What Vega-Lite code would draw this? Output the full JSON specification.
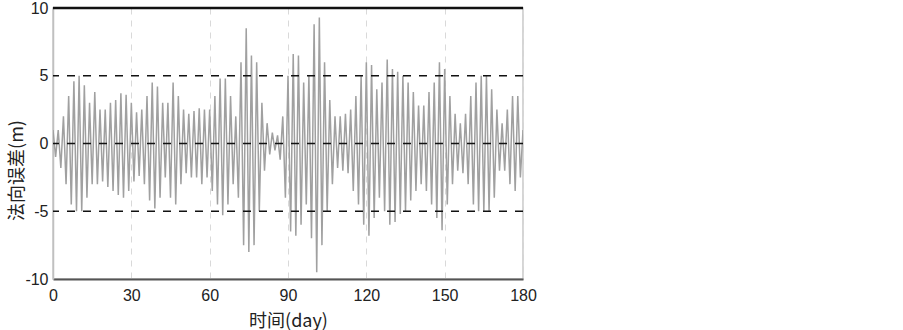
{
  "$schema": "https://vega.github.io/schema/vega-lite/v6.json",
  "width": 470,
  "height": 271,
  "autosize": "none",
  "padding": {"left": 53, "top": 8, "right": 380, "bottom": 51},
  "background": "white",
  "config": {
    "view": {"stroke": "#c8c8c8", "strokeWidth": 1.5},
    "font": "Liberation Sans"
  },
  "datasets": {
    "err": [
      {"t":0,"v":1.0},{"t":1,"v":-1.0},{"t":2,"v":1.0},{"t":3,"v":-1.8},{"t":4,"v":2.0},{"t":5,"v":-3.0},{"t":6,"v":3.5},{"t":7,"v":-4.5},{"t":8,"v":4.6},{"t":9,"v":-5.0},
      {"t":10,"v":5.0},{"t":11,"v":-5.0},{"t":12,"v":4.3},{"t":13,"v":-4.0},{"t":14,"v":3.0},{"t":15,"v":-3.0},{"t":16,"v":3.8},{"t":17,"v":-3.0},{"t":18,"v":2.5},{"t":19,"v":-2.8},
      {"t":20,"v":2.5},{"t":21,"v":-3.2},{"t":22,"v":3.0},{"t":23,"v":-3.5},{"t":24,"v":3.2},{"t":25,"v":-3.8},{"t":26,"v":3.7},{"t":27,"v":-4.0},{"t":28,"v":3.6},{"t":29,"v":-3.5},
      {"t":30,"v":3.0},{"t":31,"v":-2.8},{"t":32,"v":2.3},{"t":33,"v":-2.4},{"t":34,"v":2.5},{"t":35,"v":-3.0},{"t":36,"v":3.5},{"t":37,"v":-4.2},{"t":38,"v":4.5},{"t":39,"v":-4.8},
      {"t":40,"v":4.2},{"t":41,"v":-4.0},{"t":42,"v":3.0},{"t":43,"v":-2.5},{"t":44,"v":3.0},{"t":45,"v":-4.0},{"t":46,"v":4.5},{"t":47,"v":-4.5},{"t":48,"v":3.5},{"t":49,"v":-3.0},
      {"t":50,"v":2.5},{"t":51,"v":-2.2},{"t":52,"v":2.2},{"t":53,"v":-2.5},{"t":54,"v":2.4},{"t":55,"v":-2.5},{"t":56,"v":2.6},{"t":57,"v":-3.0},{"t":58,"v":2.5},{"t":59,"v":-2.5},
      {"t":60,"v":2.5},{"t":61,"v":-3.5},{"t":62,"v":3.5},{"t":63,"v":-4.5},{"t":64,"v":4.8},{"t":65,"v":-5.3},{"t":66,"v":4.8},{"t":67,"v":-4.5},{"t":68,"v":3.5},{"t":69,"v":-3.0},
      {"t":70,"v":2.0},{"t":71,"v":-4.0},{"t":72,"v":6.0},{"t":73,"v":-7.5},{"t":74,"v":8.5},{"t":75,"v":-8.0},{"t":76,"v":6.5},{"t":77,"v":-7.5},{"t":78,"v":6.0},{"t":79,"v":-5.0},
      {"t":80,"v":3.0},{"t":81,"v":-2.0},{"t":82,"v":1.5},{"t":83,"v":-0.8},{"t":84,"v":0.8},{"t":85,"v":-0.5},{"t":86,"v":0.6},{"t":87,"v":-1.2},{"t":88,"v":2.0},{"t":89,"v":-4.0},
      {"t":90,"v":5.0},{"t":91,"v":-6.5},{"t":92,"v":6.6},{"t":93,"v":-6.8},{"t":94,"v":6.5},{"t":95,"v":-6.0},{"t":96,"v":4.5},{"t":97,"v":-4.5},{"t":98,"v":5.0},{"t":99,"v":-7.0},
      {"t":100,"v":8.8},{"t":101,"v":-9.5},{"t":102,"v":9.3},{"t":103,"v":-7.5},{"t":104,"v":6.0},{"t":105,"v":-5.0},{"t":106,"v":3.2},{"t":107,"v":-3.0},{"t":108,"v":2.0},{"t":109,"v":-1.8},
      {"t":110,"v":2.0},{"t":111,"v":-2.0},{"t":112,"v":2.2},{"t":113,"v":-2.2},{"t":114,"v":2.5},{"t":115,"v":-3.5},{"t":116,"v":3.5},{"t":117,"v":-4.5},{"t":118,"v":5.0},{"t":119,"v":-6.0},
      {"t":120,"v":6.0},{"t":121,"v":-6.8},{"t":122,"v":5.8},{"t":123,"v":-5.5},{"t":124,"v":4.0},{"t":125,"v":-4.0},{"t":126,"v":4.5},{"t":127,"v":-5.0},{"t":128,"v":6.2},{"t":129,"v":-6.0},
      {"t":130,"v":5.5},{"t":131,"v":-5.8},{"t":132,"v":5.3},{"t":133,"v":-5.2},{"t":134,"v":5.0},{"t":135,"v":-5.0},{"t":136,"v":4.5},{"t":137,"v":-4.2},{"t":138,"v":3.8},{"t":139,"v":-3.5},
      {"t":140,"v":2.8},{"t":141,"v":-3.0},{"t":142,"v":2.8},{"t":143,"v":-3.5},{"t":144,"v":3.8},{"t":145,"v":-4.5},{"t":146,"v":4.5},{"t":147,"v":-5.5},{"t":148,"v":6.0},{"t":149,"v":-6.4},
      {"t":150,"v":5.5},{"t":151,"v":-4.5},{"t":152,"v":3.5},{"t":153,"v":-3.0},{"t":154,"v":2.2},{"t":155,"v":-2.0},{"t":156,"v":1.5},{"t":157,"v":-2.2},{"t":158,"v":2.2},{"t":159,"v":-3.0},
      {"t":160,"v":3.5},{"t":161,"v":-4.5},{"t":162,"v":4.5},{"t":163,"v":-5.0},{"t":164,"v":5.0},{"t":165,"v":-5.0},{"t":166,"v":5.0},{"t":167,"v":-5.0},{"t":168,"v":4.0},{"t":169,"v":-4.0},
      {"t":170,"v":2.5},{"t":171,"v":-2.0},{"t":172,"v":1.5},{"t":173,"v":-2.0},{"t":174,"v":2.5},{"t":175,"v":-3.0},{"t":176,"v":3.5},{"t":177,"v":-3.5},{"t":178,"v":3.5},{"t":179,"v":-2.5},
      {"t":180,"v":1.0}
    ],
    "refs": [{"level": -5}, {"level": 0}, {"level": 5}],
    "top": [{"level": 10}]
  },
  "layer": [
    {
      "data": {"name": "err"},
      "mark": {"type": "line", "stroke": "#a0a0a0", "strokeWidth": 1.5, "clip": true},
      "encoding": {
        "x": {
          "field": "t", "type": "quantitative",
          "scale": {"domain": [0, 180], "nice": false, "zero": false},
          "axis": {
            "values": [0, 30, 60, 90, 120, 150, 180],
            "labelFlush": false,
            "title": "时间(day)",
            "titleFont": "Noto Sans CJK SC",
            "titleFontSize": 18,
            "titleFontWeight": "normal",
            "titleColor": "#222",
            "titlePadding": 9,
            "labelFont": "Liberation Sans",
            "labelFontSize": 16,
            "labelColor": "#222",
            "labelPadding": 8,
            "ticks": false,
            "domainColor": "#555",
            "domainWidth": 2,
            "grid": true,
            "gridColor": "#d9d9d9",
            "gridDash": [6, 6],
            "gridWidth": 1
          }
        },
        "y": {
          "field": "v", "type": "quantitative",
          "scale": {"domain": [-10, 10], "nice": false},
          "axis": {
            "values": [-10, -5, 0, 5, 10],
            "labelExpr": "replace(datum.label, '−', '-')",
            "title": "法向误差(m)",
            "titleFont": "Noto Sans CJK SC",
            "titleFontSize": 18,
            "titleFontWeight": "normal",
            "titleColor": "#222",
            "titleAngle": -90,
            "titleX": -36,
            "titleY": 162,
            "titleAlign": "center",
            "titleBaseline": "middle",
            "labelFont": "Liberation Sans",
            "labelFontSize": 16,
            "labelColor": "#222",
            "labelPadding": 5,
            "ticks": false,
            "domainColor": "#c0c0c0",
            "domainWidth": 1.5,
            "grid": false
          }
        }
      }
    },
    {
      "data": {"name": "refs"},
      "mark": {"type": "rule", "stroke": "#111", "strokeWidth": 1.6, "strokeDash": [8, 8]},
      "encoding": {"y": {"field": "level", "type": "quantitative"}}
    },
    {
      "data": {"name": "top"},
      "mark": {"type": "rule", "stroke": "#111", "strokeWidth": 2.5},
      "encoding": {"y": {"field": "level", "type": "quantitative"}}
    }
  ]
}
